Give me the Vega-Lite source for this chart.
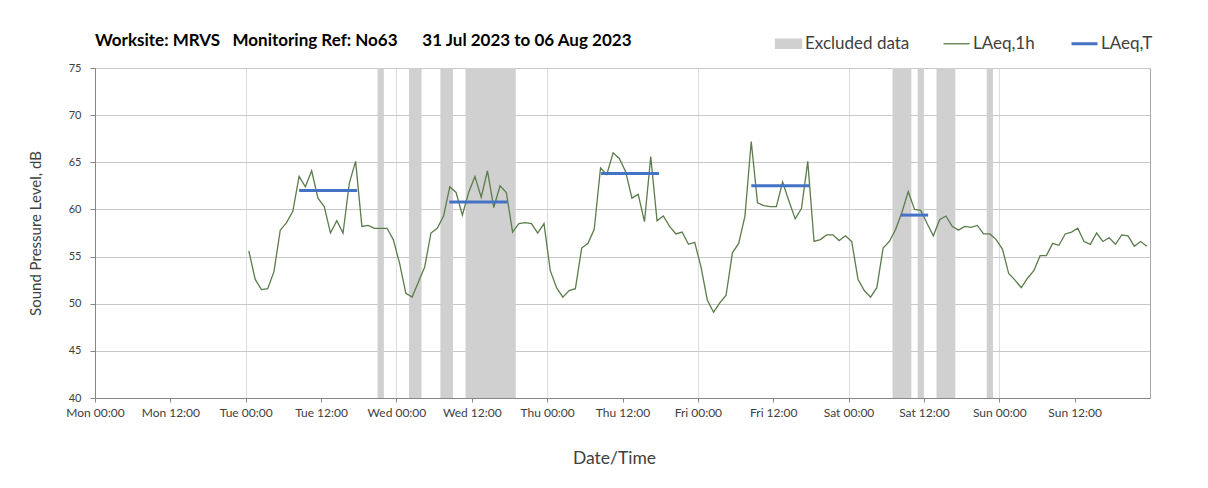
{
  "$schema": "https://vega.github.io/schema/vega-lite/v6.json",
  "autosize": {"type": "none"},
  "width": 1055,
  "height": 330,
  "padding": {"left": 95, "top": 68, "right": 58, "bottom": 90},
  "background": "white",
  "config": {
    "font": "Lato",
    "view": {"stroke": "#a6a6a6", "strokeWidth": 1}
  },
  "title": {
    "text": "Worksite: MRVS\u00a0\u00a0\u00a0Monitoring Ref: No63\u00a0\u00a0\u00a0\u00a0\u00a0 31 Jul 2023 to 06 Aug 2023",
    "anchor": "start",
    "frame": "group",
    "fontSize": 17,
    "fontWeight": "bold",
    "color": "#000000",
    "baseline": "alphabetic",
    "offset": -28
  },
  "datasets": {
    "hourly": [
      {"t": "2023-08-01T00:30", "v": 55.6}, {"t": "2023-08-01T01:30", "v": 52.6}, {"t": "2023-08-01T02:30", "v": 51.5}, {"t": "2023-08-01T03:30", "v": 51.6},
      {"t": "2023-08-01T04:30", "v": 53.4}, {"t": "2023-08-01T05:30", "v": 57.8}, {"t": "2023-08-01T06:30", "v": 58.6}, {"t": "2023-08-01T07:30", "v": 59.8},
      {"t": "2023-08-01T08:30", "v": 63.5}, {"t": "2023-08-01T09:30", "v": 62.4}, {"t": "2023-08-01T10:30", "v": 64.1}, {"t": "2023-08-01T11:30", "v": 61.2},
      {"t": "2023-08-01T12:30", "v": 60.3}, {"t": "2023-08-01T13:30", "v": 57.5}, {"t": "2023-08-01T14:30", "v": 58.8}, {"t": "2023-08-01T15:30", "v": 57.5},
      {"t": "2023-08-01T16:30", "v": 62.8}, {"t": "2023-08-01T17:30", "v": 65.1}, {"t": "2023-08-01T18:30", "v": 58.2}, {"t": "2023-08-01T19:30", "v": 58.3},
      {"t": "2023-08-01T20:30", "v": 58.0}, {"t": "2023-08-01T21:30", "v": 58.0}, {"t": "2023-08-01T22:30", "v": 58.0}, {"t": "2023-08-01T23:30", "v": 56.8},
      {"t": "2023-08-02T00:30", "v": 54.3}, {"t": "2023-08-02T01:30", "v": 51.1}, {"t": "2023-08-02T02:30", "v": 50.7}, {"t": "2023-08-02T03:30", "v": 52.3},
      {"t": "2023-08-02T04:30", "v": 53.9}, {"t": "2023-08-02T05:30", "v": 57.5}, {"t": "2023-08-02T06:30", "v": 58.0}, {"t": "2023-08-02T07:30", "v": 59.3},
      {"t": "2023-08-02T08:30", "v": 62.4}, {"t": "2023-08-02T09:30", "v": 61.8}, {"t": "2023-08-02T10:30", "v": 59.4}, {"t": "2023-08-02T11:30", "v": 61.8},
      {"t": "2023-08-02T12:30", "v": 63.5}, {"t": "2023-08-02T13:30", "v": 61.3}, {"t": "2023-08-02T14:30", "v": 64.1}, {"t": "2023-08-02T15:30", "v": 60.2},
      {"t": "2023-08-02T16:30", "v": 62.5}, {"t": "2023-08-02T17:30", "v": 61.8}, {"t": "2023-08-02T18:30", "v": 57.6}, {"t": "2023-08-02T19:30", "v": 58.5},
      {"t": "2023-08-02T20:30", "v": 58.6}, {"t": "2023-08-02T21:30", "v": 58.5}, {"t": "2023-08-02T22:30", "v": 57.5}, {"t": "2023-08-02T23:30", "v": 58.5},
      {"t": "2023-08-03T00:30", "v": 53.5}, {"t": "2023-08-03T01:30", "v": 51.7}, {"t": "2023-08-03T02:30", "v": 50.7}, {"t": "2023-08-03T03:30", "v": 51.4},
      {"t": "2023-08-03T04:30", "v": 51.6}, {"t": "2023-08-03T05:30", "v": 55.9}, {"t": "2023-08-03T06:30", "v": 56.4}, {"t": "2023-08-03T07:30", "v": 57.9},
      {"t": "2023-08-03T08:30", "v": 64.4}, {"t": "2023-08-03T09:30", "v": 63.7}, {"t": "2023-08-03T10:30", "v": 66.0}, {"t": "2023-08-03T11:30", "v": 65.4},
      {"t": "2023-08-03T12:30", "v": 64.0}, {"t": "2023-08-03T13:30", "v": 61.2}, {"t": "2023-08-03T14:30", "v": 61.6}, {"t": "2023-08-03T15:30", "v": 58.7},
      {"t": "2023-08-03T16:30", "v": 65.6}, {"t": "2023-08-03T17:30", "v": 58.8}, {"t": "2023-08-03T18:30", "v": 59.3}, {"t": "2023-08-03T19:30", "v": 58.2},
      {"t": "2023-08-03T20:30", "v": 57.4}, {"t": "2023-08-03T21:30", "v": 57.6}, {"t": "2023-08-03T22:30", "v": 56.3}, {"t": "2023-08-03T23:30", "v": 56.5},
      {"t": "2023-08-04T00:30", "v": 53.9}, {"t": "2023-08-04T01:30", "v": 50.4}, {"t": "2023-08-04T02:30", "v": 49.1}, {"t": "2023-08-04T03:30", "v": 50.1},
      {"t": "2023-08-04T04:30", "v": 50.9}, {"t": "2023-08-04T05:30", "v": 55.4}, {"t": "2023-08-04T06:30", "v": 56.4}, {"t": "2023-08-04T07:30", "v": 59.3},
      {"t": "2023-08-04T08:30", "v": 67.2}, {"t": "2023-08-04T09:30", "v": 60.7}, {"t": "2023-08-04T10:30", "v": 60.4}, {"t": "2023-08-04T11:30", "v": 60.3},
      {"t": "2023-08-04T12:30", "v": 60.3}, {"t": "2023-08-04T13:30", "v": 62.9}, {"t": "2023-08-04T14:30", "v": 60.9}, {"t": "2023-08-04T15:30", "v": 59.0},
      {"t": "2023-08-04T16:30", "v": 60.1}, {"t": "2023-08-04T17:30", "v": 65.1}, {"t": "2023-08-04T18:30", "v": 56.6}, {"t": "2023-08-04T19:30", "v": 56.8},
      {"t": "2023-08-04T20:30", "v": 57.3}, {"t": "2023-08-04T21:30", "v": 57.3}, {"t": "2023-08-04T22:30", "v": 56.7}, {"t": "2023-08-04T23:30", "v": 57.2},
      {"t": "2023-08-05T00:30", "v": 56.6}, {"t": "2023-08-05T01:30", "v": 52.6}, {"t": "2023-08-05T02:30", "v": 51.4}, {"t": "2023-08-05T03:30", "v": 50.7},
      {"t": "2023-08-05T04:30", "v": 51.7}, {"t": "2023-08-05T05:30", "v": 55.9}, {"t": "2023-08-05T06:30", "v": 56.6}, {"t": "2023-08-05T07:30", "v": 57.9},
      {"t": "2023-08-05T08:30", "v": 59.7}, {"t": "2023-08-05T09:30", "v": 61.9}, {"t": "2023-08-05T10:30", "v": 60.0}, {"t": "2023-08-05T11:30", "v": 59.9},
      {"t": "2023-08-05T12:30", "v": 58.5}, {"t": "2023-08-05T13:30", "v": 57.2}, {"t": "2023-08-05T14:30", "v": 58.9}, {"t": "2023-08-05T15:30", "v": 59.3},
      {"t": "2023-08-05T16:30", "v": 58.2}, {"t": "2023-08-05T17:30", "v": 57.8}, {"t": "2023-08-05T18:30", "v": 58.2}, {"t": "2023-08-05T19:30", "v": 58.1},
      {"t": "2023-08-05T20:30", "v": 58.3}, {"t": "2023-08-05T21:30", "v": 57.4}, {"t": "2023-08-05T22:30", "v": 57.4}, {"t": "2023-08-05T23:30", "v": 56.8},
      {"t": "2023-08-06T00:30", "v": 55.8}, {"t": "2023-08-06T01:30", "v": 53.2}, {"t": "2023-08-06T02:30", "v": 52.5}, {"t": "2023-08-06T03:30", "v": 51.7},
      {"t": "2023-08-06T04:30", "v": 52.7}, {"t": "2023-08-06T05:30", "v": 53.5}, {"t": "2023-08-06T06:30", "v": 55.1}, {"t": "2023-08-06T07:30", "v": 55.1},
      {"t": "2023-08-06T08:30", "v": 56.4}, {"t": "2023-08-06T09:30", "v": 56.2}, {"t": "2023-08-06T10:30", "v": 57.4}, {"t": "2023-08-06T11:30", "v": 57.6},
      {"t": "2023-08-06T12:30", "v": 58.0}, {"t": "2023-08-06T13:30", "v": 56.6}, {"t": "2023-08-06T14:30", "v": 56.3}, {"t": "2023-08-06T15:30", "v": 57.5},
      {"t": "2023-08-06T16:30", "v": 56.6}, {"t": "2023-08-06T17:30", "v": 57.0}, {"t": "2023-08-06T18:30", "v": 56.3}, {"t": "2023-08-06T19:30", "v": 57.3},
      {"t": "2023-08-06T20:30", "v": 57.2}, {"t": "2023-08-06T21:30", "v": 56.1}, {"t": "2023-08-06T22:30", "v": 56.6}, {"t": "2023-08-06T23:30", "v": 56.1}
    ],
    "excluded": [
      {"start": "2023-08-01T21:00", "end": "2023-08-01T22:00"},
      {"start": "2023-08-02T02:00", "end": "2023-08-02T04:00"},
      {"start": "2023-08-02T07:00", "end": "2023-08-02T09:00"},
      {"start": "2023-08-02T11:00", "end": "2023-08-02T19:00"},
      {"start": "2023-08-05T07:00", "end": "2023-08-05T10:00"},
      {"start": "2023-08-05T11:00", "end": "2023-08-05T12:00"},
      {"start": "2023-08-05T14:00", "end": "2023-08-05T17:00"},
      {"start": "2023-08-05T22:00", "end": "2023-08-05T23:00"}
    ],
    "laeqt": [
      {"start": "2023-08-01T08:30", "end": "2023-08-01T17:45", "v": 62.0},
      {"start": "2023-08-02T08:25", "end": "2023-08-02T17:40", "v": 60.8},
      {"start": "2023-08-03T08:35", "end": "2023-08-03T17:50", "v": 63.8},
      {"start": "2023-08-04T08:30", "end": "2023-08-04T17:45", "v": 62.5},
      {"start": "2023-08-05T08:20", "end": "2023-08-05T12:40", "v": 59.4}
    ]
  },
  "layer": [
    {
      "data": {"name": "excluded"},
      "transform": [{"calculate": "'Excluded data'", "as": "series"}],
      "mark": {"type": "rect"},
      "encoding": {
        "x": {
          "field": "start", "type": "temporal",
          "scale": {"domain": [{"year": 2023, "month": "jul", "date": 31, "hours": 0}, {"year": 2023, "month": "aug", "date": 7, "hours": 0}]},
          "axis": {
            "title": "Date/Time",
            "titleFontSize": 17.5, "titleFontWeight": "normal", "titleColor": "#404040", "titlePadding": 31, "titleX": 519,
            "values": [
              {"year": 2023, "month": "jul", "date": 31, "hours": 0}, {"year": 2023, "month": "jul", "date": 31, "hours": 12},
              {"year": 2023, "month": "aug", "date": 1, "hours": 0}, {"year": 2023, "month": "aug", "date": 1, "hours": 12},
              {"year": 2023, "month": "aug", "date": 2, "hours": 0}, {"year": 2023, "month": "aug", "date": 2, "hours": 12},
              {"year": 2023, "month": "aug", "date": 3, "hours": 0}, {"year": 2023, "month": "aug", "date": 3, "hours": 12},
              {"year": 2023, "month": "aug", "date": 4, "hours": 0}, {"year": 2023, "month": "aug", "date": 4, "hours": 12},
              {"year": 2023, "month": "aug", "date": 5, "hours": 0}, {"year": 2023, "month": "aug", "date": 5, "hours": 12},
              {"year": 2023, "month": "aug", "date": 6, "hours": 0}, {"year": 2023, "month": "aug", "date": 6, "hours": 12}
            ],
            "format": "%a %H:%M", "formatType": "time",
            "labelFontSize": 12, "labelColor": "#404040", "labelPadding": 5, "labelFlush": false, "labelOverlap": false,
            "tickSize": 4, "tickColor": "#868686", "domainColor": "#868686",
            "grid": true,
            "gridColor": {"condition": {"test": "hours(datum.value) === 0", "value": "#dcdcdc"}, "value": "transparent"}
          }
        },
        "x2": {"field": "end"},
        "color": {
          "field": "series", "type": "nominal",
          "scale": {"domain": ["Excluded data", "LAeq,1h", "LAeq,T"], "range": ["#d0d0d0", "#5b7c4b", "#4472c4"]},
          "legend": {
            "title": null,
            "orient": "none",
            "legendX": 685,
            "legendY": -33,
            "direction": "horizontal",
            "columnPadding": 30,
            "labelFontSize": 17,
            "labelColor": "#404040",
            "labelOffset": 8,
            "symbolSize": 676,
            "encode": {
              "symbols": {
                "update": {
                  "shape": {"signal": "datum.value === 'Excluded data' ? 'M-1,-0.36H1V0.36H-1Z' : 'M-1,0H1'"},
                  "fill": {"signal": "datum.value === 'Excluded data' ? '#d0d0d0' : 'transparent'"},
                  "stroke": {"signal": "datum.value === 'Excluded data' ? 'transparent' : (datum.value === 'LAeq,1h' ? '#5b7c4b' : '#4472c4')"},
                  "strokeWidth": {"signal": "datum.value === 'LAeq,T' ? 3 : 1.3"},
                  "opacity": {"value": 1}
                }
              }
            }
          }
        }
      }
    },
    {
      "data": {"name": "hourly"},
      "transform": [{"calculate": "'LAeq,1h'", "as": "series"}],
      "mark": {"type": "line", "strokeWidth": 1.3},
      "encoding": {
        "x": {"field": "t", "type": "temporal"},
        "y": {
          "field": "v", "type": "quantitative",
          "scale": {"domain": [40, 75], "nice": false, "zero": false},
          "axis": {
            "title": "Sound Pressure Level, dB",
            "titleFontSize": 15, "titleFontWeight": "normal", "titleColor": "#404040", "titlePadding": 25,
            "values": [40, 45, 50, 55, 60, 65, 70, 75],
            "labelFontSize": 11, "labelColor": "#404040", "labelPadding": 9,
            "tickSize": 5, "tickColor": "#868686", "domainColor": "#868686",
            "gridColor": "#c8c8c8"
          }
        },
        "color": {"field": "series", "type": "nominal"}
      }
    },
    {
      "data": {"name": "laeqt"},
      "transform": [{"calculate": "'LAeq,T'", "as": "series"}],
      "mark": {"type": "rule", "strokeWidth": 3},
      "encoding": {
        "x": {"field": "start", "type": "temporal"},
        "x2": {"field": "end"},
        "y": {"field": "v", "type": "quantitative"},
        "color": {"field": "series", "type": "nominal"}
      }
    }
  ]
}
